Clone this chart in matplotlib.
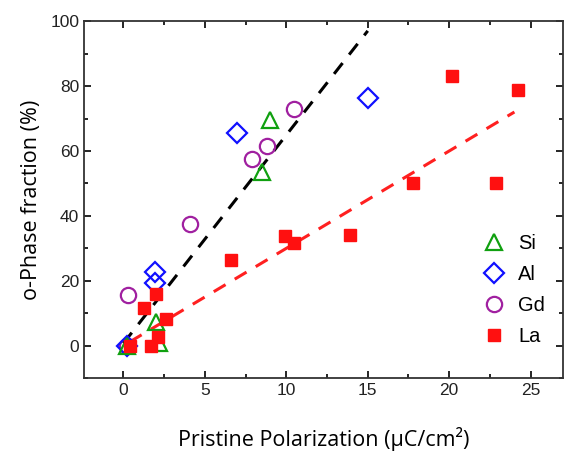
import numpy as np
import matplotlib.pyplot as plt
from matplotlib.ticker import MultipleLocator

# data
si_x = [0.2, 2.0, 2.2, 8.5, 9.0]
si_y = [0.0, 7.2, 1.0, 53.6, 69.5]

al_x = [0.25, 1.95, 1.95, 7.0, 15.0]
al_y = [-0.2, 19.4, 22.6, 65.5, 76.3]

gd_x = [0.2, 0.3, 4.1, 7.9, 8.8, 10.5]
gd_y = [0.0, 15.6, 37.6, 57.5, 61.5, 72.8]

la_x = [0.4, 1.7, 2.1, 2.6, 1.3, 2.0, 6.6, 9.9, 10.5, 13.9, 17.8, 22.9, 20.2, 24.2]
la_y = [0.0, 0.0, 2.7, 8.2, 11.6, 16.0, 26.5, 33.7, 31.5, 34.2, 50.2, 50.0, 83.2, 78.9]

# dashed guide lines
fit_black_x = [0.0, 15.0]
fit_black_y = [0.7, 97.0]
fit_red_x = [0.4, 24.0]
fit_red_y = [1.2, 72.0]

fig = plt.figure(figsize=(5.65, 4.59), dpi=100)
ax = fig.add_axes([0.149, 0.176, 0.848, 0.778])

ax.plot(fit_black_x, fit_black_y, color='black', lw=2.2, dashes=(4.5, 3.5), zorder=1)
ax.plot(fit_red_x, fit_red_y, color='#ff2020', lw=2.2, dashes=(4.5, 3.5), zorder=1)

ax.plot(gd_x, gd_y, 'o', ms=11, mfc='none', mec='#a020a0', mew=1.6, label='Gd', zorder=2)
ax.plot(al_x, al_y, 'D', ms=10, mfc='none', mec='#1010ff', mew=1.6, label='Al', zorder=2)
ax.plot(si_x, si_y, '^', ms=12, mfc='none', mec='#10a010', mew=1.6, label='Si', zorder=3)
ax.plot(la_x, la_y, 's', ms=8.5, color='#ff1010', mec='#ff1010', label='La', zorder=4)

ax.set_xlim(-2.4, 27)
ax.set_ylim(-10, 100)
ax.xaxis.set_major_locator(MultipleLocator(5))
ax.xaxis.set_minor_locator(MultipleLocator(2.5))
ax.yaxis.set_major_locator(MultipleLocator(20))
ax.yaxis.set_minor_locator(MultipleLocator(10))
ax.tick_params(which='both', direction='in', top=True, right=True,
               labelsize=12.5, width=1.2, labelcolor='#222222')
ax.tick_params(which='major', length=5)
ax.tick_params(which='minor', length=3)
for lab in ax.get_xticklabels() + ax.get_yticklabels():
    lab.set_family('Liberation Sans')
for s in ax.spines.values():
    s.set_linewidth(1.3)
    s.set_color('#333333')

ax.set_xlabel('Pristine Polarization (μC/cm²)', fontsize=15.5, family='Open Sans', labelpad=21)
ax.set_ylabel('o-Phase fraction (%)', fontsize=15.5, family='Open Sans', labelpad=6)

handles, labels = ax.get_legend_handles_labels()
order = [2, 1, 0, 3]
ax.legend([handles[i] for i in order], [labels[i] for i in order],
          loc='lower right', bbox_to_anchor=(1.0, 0.04), frameon=False,
          prop={'family': 'Liberation Sans', 'size': 14.5},
          handletextpad=0.6, labelspacing=0.6, handlelength=1.2)

fig.savefig('out.png', dpi=100)
